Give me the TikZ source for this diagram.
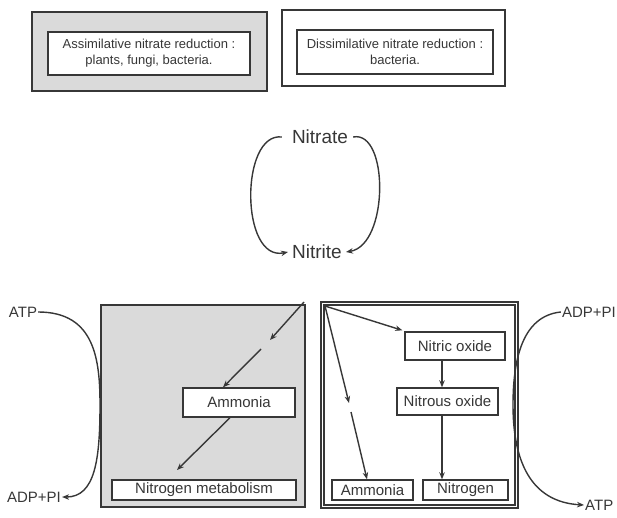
\documentclass[tikz,border=0pt]{standalone}
\usepackage{fontspec}
\setmainfont{Liberation Sans}
\usetikzlibrary{arrows.meta}
\definecolor{ink}{RGB}{55,55,55}
\definecolor{shade}{RGB}{218,218,218}
\tikzset{
  box/.style={draw=ink, line width=1.4pt, fill=white, inner sep=0pt, text=ink, align=center, font=\fontsize{15}{17}\selectfont},
  topbox/.style={draw=ink, line width=1.8pt, inner sep=0pt, text=ink, align=center, font=\fontsize{13}{16}\selectfont},
  frame/.style={draw=ink, line width=2pt, inner sep=0pt},
  lbl/.style={text=ink, inner sep=1pt, font=\fontsize{15}{17}\selectfont},
  big/.style={text=ink, inner sep=2pt, font=\fontsize{19}{21}\selectfont},
  arr/.style={draw=ink, line width=1.4pt, -{Stealth[length=7pt,width=5.5pt]}},
}
\begin{document}
\begin{tikzpicture}[x=1pt,y=-1pt]
\useasboundingbox (0,0) rectangle (617,518);
% top boxes
\node[frame, fill=shade, minimum width=235pt, minimum height=79pt] (outA) at (149.5,51.5) {};
\node[topbox, minimum width=202pt, minimum height=43pt, fill=white] (inA) at (149,53.5) {Assimilative nitrate reduction :\\plants, fungi, bacteria.};
\node[frame, fill=white, minimum width=223pt, minimum height=76pt] (outD) at (393.5,48) {};
\node[topbox, minimum width=196pt, minimum height=44pt, fill=white] (inD) at (395,52) {Dissimilative nitrate reduction :\\bacteria.};
% nitrate / nitrite
\node[big] (nitrate) at (320,137) {Nitrate};
\node[big] (nitrite) at (317,252) {Nitrite};
\draw[arr] ([xshift=-8pt]nitrate.west) .. controls (240,132) and (240,262) .. ([xshift=-2pt]nitrite.west);
\draw[arr] ([xshift=3pt]nitrate.east) .. controls (389,130) and (389,245) .. ([xshift=2pt]nitrite.east);
% left gray box
\node[frame, fill=shade, minimum width=204pt, minimum height=202pt] (gbox) at (203,406) {};
\node[box, minimum width=112pt, minimum height=29pt] (ammA) at (239,402.5) {Ammonia};
\node[box, minimum width=184pt, minimum height=20pt] (nmet) at (204,490) {Nitrogen metabolism};
\coordinate (gmid) at (270,340);
\coordinate (grest) at (261,349);
\coordinate (gend) at (177,470);
\coordinate (gx1) at (223,0);
\coordinate (gx2) at (230,0);
\draw[arr] ([shift={(-2pt,2pt)}]gbox.north east) -- (gmid);
\draw[arr] (grest) -- (gx1 |- ammA.north);
\draw[arr] (gx2 |- ammA.south) -- (gend);
% right box
\node[draw=ink, double=white, double distance=1.8pt, line width=1.3pt, fill=white, inner sep=0pt, minimum width=194pt, minimum height=203pt] (dbox) at (419.5,405) {};
\node[box, minimum width=100pt, minimum height=28pt] (nitric) at (455,346) {Nitric oxide};
\node[box, minimum width=101pt, minimum height=27pt] (nitrous) at (447.5,401.5) {Nitrous oxide};
\node[box, minimum width=81pt, minimum height=20pt] (ammD) at (372.5,490) {Ammonia};
\node[box, minimum width=85pt, minimum height=20pt] (nitro) at (465.5,490) {Nitrogen};
\coordinate (dc) at (325,306);
\coordinate (dmid) at (349,403);
\coordinate (drest) at (351,412);
\coordinate (colx) at (442,0);
\coordinate (ax) at (367,0);
\draw[arr] (dc) -- ([shift={(-2pt,1pt)}]nitric.north west);
\draw[arr] (dc) -- (dmid);
\draw[arr] (drest) -- (ax |- ammD.north);
\draw[arr] (colx |- nitric.south) -- (colx |- nitrous.north);
\draw[arr] (colx |- nitrous.south) -- (colx |- nitro.north);
% ATP / ADP left
\node[lbl] (atpL) at (23,312) {ATP};
\node[lbl] (adpL) at (34,497) {ADP+PI};
\draw[arr] (atpL.east) .. controls (95,312) and (100,360) .. (100,405) .. controls (100,460) and (95,497) .. (adpL.east);
% ATP / ADP right
\node[lbl, anchor=east] (adpR) at (617,312) {ADP+PI};
\node[lbl, anchor=west] (atpR) at (584,505) {ATP};
\draw[arr] (adpR.west) .. controls (522,316) and (513,360) .. (513,405) .. controls (513,460) and (530,502) .. (atpR.west);
\end{tikzpicture}
\end{document}
